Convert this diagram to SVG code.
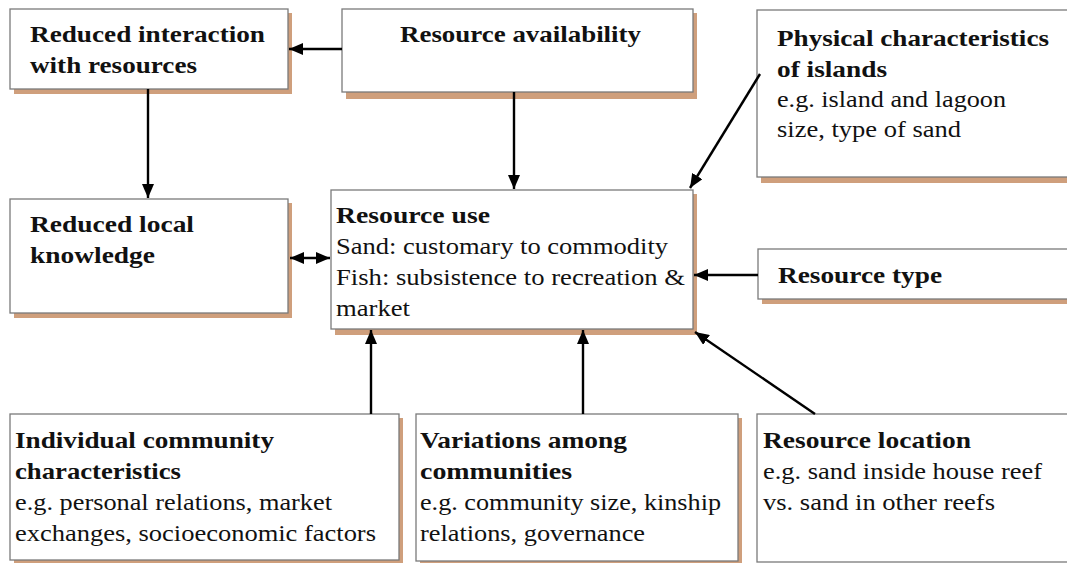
<svg xmlns="http://www.w3.org/2000/svg" width="1067" height="563" viewBox="0 0 1067 563">
<style>
.sh{fill:#cf9f7c}
.bx{fill:#fff;stroke:#7a7a7a;stroke-width:1.3}
text{font-size:24px;fill:#111}
.b{font-weight:bold}
.cn{stroke:#000;stroke-width:2.4;fill:none;marker-end:url(#ah)}
</style>
<defs>
<marker id="ah" viewBox="0 0 14 12" refX="14" refY="6" markerWidth="14" markerHeight="12" markerUnits="userSpaceOnUse" orient="auto-start-reverse">
<path d="M0,0L14,6L0,12z" fill="#000"/>
</marker>
</defs>
<rect width="1067" height="563" fill="#fff"/>
<g font-family="Liberation Serif, DejaVu Serif, serif">
<g id="n-reduced-interaction">
<rect class="sh" x="14" y="13" width="278" height="81"/>
<rect class="bx" x="10" y="9" width="278" height="80"/>
<text class="b" x="30" y="42" textLength="235" lengthAdjust="spacingAndGlyphs">Reduced interaction</text>
<text class="b" x="30" y="73" textLength="167" lengthAdjust="spacingAndGlyphs">with resources</text>
</g>
<g id="n-resource-availability">
<rect class="sh" x="346" y="13" width="351" height="86"/>
<rect class="bx" x="342" y="9" width="351" height="83"/>
<text class="b" x="400" y="42" textLength="241" lengthAdjust="spacingAndGlyphs">Resource availability</text>
</g>
<g id="n-physical">
<rect class="sh" x="761" y="14" width="310" height="169"/>
<rect class="bx" x="757" y="10" width="312" height="167"/>
<text class="b" x="777" y="46" textLength="272" lengthAdjust="spacingAndGlyphs">Physical characteristics</text>
<text class="b" x="777" y="77" textLength="110" lengthAdjust="spacingAndGlyphs">of islands</text>
<text x="777" y="107" textLength="229" lengthAdjust="spacingAndGlyphs">e.g. island and lagoon</text>
<text x="777" y="137" textLength="184" lengthAdjust="spacingAndGlyphs">size, type of sand</text>
</g>
<g id="n-reduced-knowledge">
<rect class="sh" x="14" y="203" width="278" height="115"/>
<rect class="bx" x="10" y="199" width="278" height="114"/>
<text class="b" x="30" y="232" textLength="164" lengthAdjust="spacingAndGlyphs">Reduced local</text>
<text class="b" x="30" y="263" textLength="125" lengthAdjust="spacingAndGlyphs">knowledge</text>
</g>
<g id="n-resource-use">
<rect class="sh" x="335" y="194" width="362" height="141"/>
<rect class="bx" x="331" y="190" width="362" height="139"/>
<text class="b" x="336" y="223" textLength="154" lengthAdjust="spacingAndGlyphs">Resource use</text>
<text x="336" y="254" textLength="332" lengthAdjust="spacingAndGlyphs">Sand: customary to commodity</text>
<text x="336" y="285" textLength="349" lengthAdjust="spacingAndGlyphs">Fish: subsistence to recreation &amp;</text>
<text x="336" y="316" textLength="74" lengthAdjust="spacingAndGlyphs">market</text>
</g>
<g id="n-resource-type">
<rect class="sh" x="762" y="253" width="310" height="51"/>
<rect class="bx" x="758" y="249" width="312" height="50"/>
<text class="b" x="778" y="283" textLength="164" lengthAdjust="spacingAndGlyphs">Resource type</text>
</g>
<g id="n-individual">
<rect class="sh" x="14" y="418" width="389" height="148"/>
<rect class="bx" x="10" y="414" width="389" height="146"/>
<text class="b" x="15" y="448" textLength="259" lengthAdjust="spacingAndGlyphs">Individual community</text>
<text class="b" x="15" y="479" textLength="166" lengthAdjust="spacingAndGlyphs">characteristics</text>
<text x="15" y="510" textLength="317" lengthAdjust="spacingAndGlyphs">e.g. personal relations, market</text>
<text x="15" y="541" textLength="361" lengthAdjust="spacingAndGlyphs">exchanges, socioeconomic factors</text>
</g>
<g id="n-variations">
<rect class="sh" x="420" y="418" width="322" height="148"/>
<rect class="bx" x="416" y="414" width="322" height="147"/>
<text class="b" x="420" y="448" textLength="207" lengthAdjust="spacingAndGlyphs">Variations among</text>
<text class="b" x="420" y="479" textLength="152" lengthAdjust="spacingAndGlyphs">communities</text>
<text x="420" y="510" textLength="301" lengthAdjust="spacingAndGlyphs">e.g. community size, kinship</text>
<text x="420" y="541" textLength="225" lengthAdjust="spacingAndGlyphs">relations, governance</text>
</g>
<g id="n-location">
<rect class="bx" x="757" y="414" width="312" height="148"/>
<text class="b" x="763" y="448" textLength="208" lengthAdjust="spacingAndGlyphs">Resource location</text>
<text x="763" y="479" textLength="279" lengthAdjust="spacingAndGlyphs">e.g. sand inside house reef</text>
<text x="763" y="510" textLength="232" lengthAdjust="spacingAndGlyphs">vs. sand in other reefs</text>
</g>
</g>
<g id="connectors">
<line class="cn" x1="342" y1="49" x2="289" y2="49"/>
<line class="cn" x1="148" y1="89" x2="148" y2="198"/>
<line class="cn" x1="514" y1="92" x2="514" y2="189"/>
<line class="cn" x1="760" y1="74" x2="690" y2="188"/>
<line class="cn" x1="290" y1="258" x2="330" y2="258" style="marker-start:url(#ah)"/>
<line class="cn" x1="758" y1="275" x2="694" y2="275"/>
<line class="cn" x1="371" y1="414" x2="371" y2="330"/>
<line class="cn" x1="583" y1="414" x2="583" y2="330"/>
<line class="cn" x1="815" y1="414" x2="695" y2="332"/>
</g>
</svg>
